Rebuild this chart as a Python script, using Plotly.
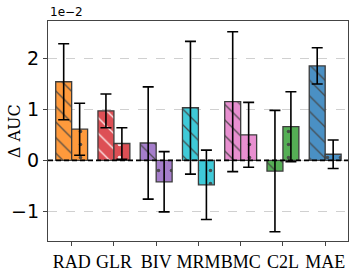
import plotly.graph_objects as go

methods = ["RAD", "GLR", "BIV", "MRM", "BMC", "C2L", "MAE"]
colors = ["#FF9A3C", "#DD4F55", "#A57DCB", "#3FCAD8", "#E88FD0", "#55AF55", "#4A90C4"]
# values in units of 1e-2
hatched_vals = [1.54, 0.97, 0.34, 1.03, 1.15, -0.21, 1.85]
hatched_err = [0.745, 0.33, 1.10, 1.30, 1.37, 1.19, 0.355]
dotted_vals = [0.61, 0.33, -0.42, -0.48, 0.50, 0.66, 0.12]
dotted_err = [0.51, 0.31, 0.59, 0.68, 0.635, 0.685, 0.28]
yticks = [-1, 0, 1, 2]
ytick_text = ["\u22121", "0", "1", "2"]

xpos = list(range(len(methods)))

fig = go.Figure()
common = dict(
    x=xpos,
    marker_line=dict(color="#3c3c3c", width=1.3),
)
fig.add_trace(go.Bar(
    y=hatched_vals,
    error_y=dict(type="data", array=hatched_err, color="black", thickness=1.6, width=5.5),
    marker=dict(color=colors,
                pattern=dict(shape="\\", fgcolor="#333333", fgopacity=0.9,
                             size=11, solidity=0.12)),
    offsetgroup="a",
    **common,
))
fig.add_trace(go.Bar(
    y=dotted_vals,
    error_y=dict(type="data", array=dotted_err, color="black", thickness=1.6, width=5.5),
    marker=dict(color=colors,
                pattern=dict(shape=".", fgcolor="#444444", fgopacity=0.9,
                             size=13, solidity=0.06)),
    offsetgroup="b",
    **common,
))

fig.add_shape(type="line", xref="paper", yref="y", x0=0, x1=1, y0=0, y1=0,
              line=dict(color="black", width=1.6, dash="5px,3px"), layer="above")

fig.add_annotation(text="1e\u22122", xref="paper", yref="paper", x=0.0, y=1.0,
                   xanchor="left", yanchor="bottom", showarrow=False,
                   font=dict(family="DejaVu Sans", size=12, color="black"))

fig.add_annotation(text="\u0394 AUC", xref="paper", yref="paper", x=-34 / 301, y=0.5,
                   xanchor="center", yanchor="middle", showarrow=False, textangle=-90,
                   font=dict(family="DejaVu Serif", size=16, color="black"))

fig.update_layout(
    width=357, height=280,
    margin=dict(l=48, r=8, t=21, b=32),
    paper_bgcolor="white", plot_bgcolor="white",
    showlegend=False,
    barmode="group", bargap=0.245, bargroupgap=0,
    xaxis=dict(
        tickmode="array", tickvals=xpos, ticktext=methods, tickangle=0,
        range=[-0.56, 6.54],
        tickfont=dict(family="Liberation Serif", size=18, color="black"),
        ticks="outside", ticklen=4, tickcolor="#444",
        showline=True, linecolor="#444", linewidth=1.2, mirror=True,
        showgrid=False, zeroline=False,
    ),
    yaxis=dict(
        tickmode="array", tickvals=yticks, ticktext=ytick_text,
        range=[-1.58, 2.73],
        tickfont=dict(family="DejaVu Sans", size=19, color="black"),
        ticks="outside", ticklen=4, tickcolor="#444",
        showline=True, linecolor="#444", linewidth=1.2, mirror=True,
        showgrid=True, gridcolor="#d0d0d0", gridwidth=1, griddash="dash",
        zeroline=False,
    ),
)

fig.write_html("out.html", config={"displayModeBar": False},
               post_script="document.body.style.margin='0';")
